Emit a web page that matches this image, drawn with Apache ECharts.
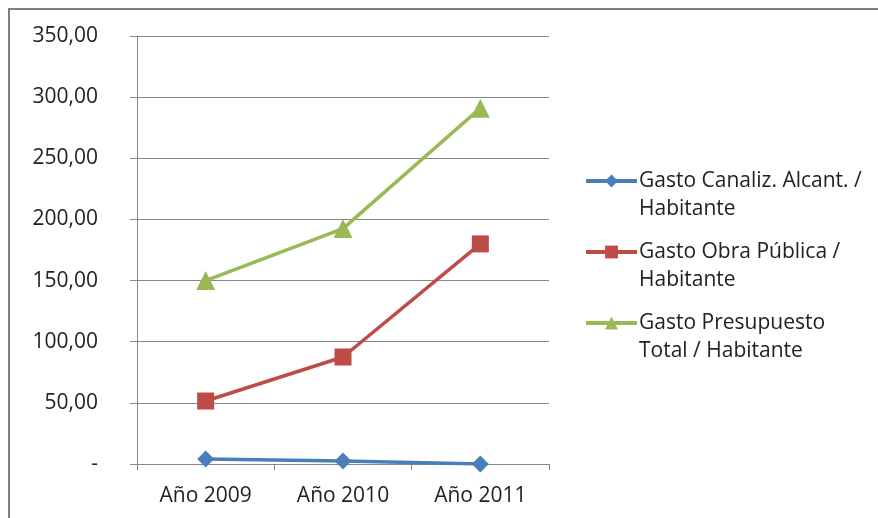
<!DOCTYPE html>
<html>
<head>
<meta charset="utf-8">
<script src="https://cdn.jsdelivr.net/npm/echarts@6/dist/echarts.min.js"></script>
<style>
html,body{margin:0;padding:0;background:#fff;}
#c{width:878px;height:518px;}
</style>
</head>
<body>
<div id="c"></div>
<script>
var categories = ['Año 2009', 'Año 2010', 'Año 2011'];
var seriesNames = ['Gasto Canaliz. Alcant. /\nHabitante', 'Gasto Obra Pública /\nHabitante', 'Gasto Presupuesto\nTotal / Habitante'];
var canalizacion = [4, 2.5, 0];
var obraPublica = [51.5, 87.5, 180];
var presupuestoTotal = [150, 192.5, 291];
var yTicks = { min: 0, max: 350, interval: 50 };

var FONT = '"Open Sans", "Liberation Sans", sans-serif';
var colors = ['#4A7EBB', '#BE4B48', '#98B954'];
var symbols = ['diamond', 'rect', 'triangle'];
var symbolSizes = [17, 17, 19];
var dataSets = [canalizacion, obraPublica, presupuestoTotal];
var legendTops = [139, 210, 281];

var chart = echarts.init(document.getElementById('c'), null, { renderer: 'canvas' });

var series = dataSets.map(function (d, i) {
  return {
    name: seriesNames[i],
    type: 'line',
    data: d,
    symbol: symbols[i],
    symbolSize: symbolSizes[i],
    lineStyle: { color: colors[i], width: 3.5 },
    itemStyle: { color: colors[i] },
    z: 3 + i
  };
});

var legends = seriesNames.map(function (n, i) {
  return {
    data: [n],
    orient: 'vertical',
    left: 584,
    top: legendTops[i],
    padding: 0,
    itemWidth: 51,
    itemHeight: 16,
    itemGap: 0,
    selectedMode: false,
    lineStyle: { width: 4 },
    formatter: function (name) { return ' \n' + name; },
    textStyle: {
      fontFamily: FONT,
      fontSize: 21,
      color: '#222',
      lineHeight: 28,
      padding: [0, 0, 0, -3]
    }
  };
});

chart.setOption({
  backgroundColor: '#fff',
  animation: false,
  color: colors,
  graphic: [{
    type: 'rect',
    shape: { x: 9, y: 9, width: 900, height: 600 },
    style: { fill: 'none', stroke: '#7f7f7f', lineWidth: 2 },
    silent: true
  }],
  legend: legends,
  grid: { left: 137, right: 329, top: 36, bottom: 54, containLabel: false },
  xAxis: {
    type: 'category',
    data: categories,
    boundaryGap: true,
    axisLine: { lineStyle: { color: '#868686', width: 1 } },
    axisTick: { show: true, length: 6, lineStyle: { color: '#868686' } },
    axisLabel: { fontFamily: FONT, fontSize: 21, color: '#222', margin: 22 },
    splitLine: { show: false }
  },
  yAxis: {
    type: 'value',
    min: yTicks.min,
    max: yTicks.max,
    interval: yTicks.interval,
    axisLine: { show: true, lineStyle: { color: '#868686', width: 1 } },
    axisTick: { show: true, length: 7, lineStyle: { color: '#868686' } },
    axisLabel: {
      fontFamily: FONT, fontSize: 21, color: '#222', margin: 39,
      formatter: function (v) { return v === 0 ? '-' : v.toFixed(2).replace('.', ','); }
    },
    splitLine: { show: true, lineStyle: { color: '#868686', width: 1 } }
  },
  series: series
});
</script>
</body>
</html>
